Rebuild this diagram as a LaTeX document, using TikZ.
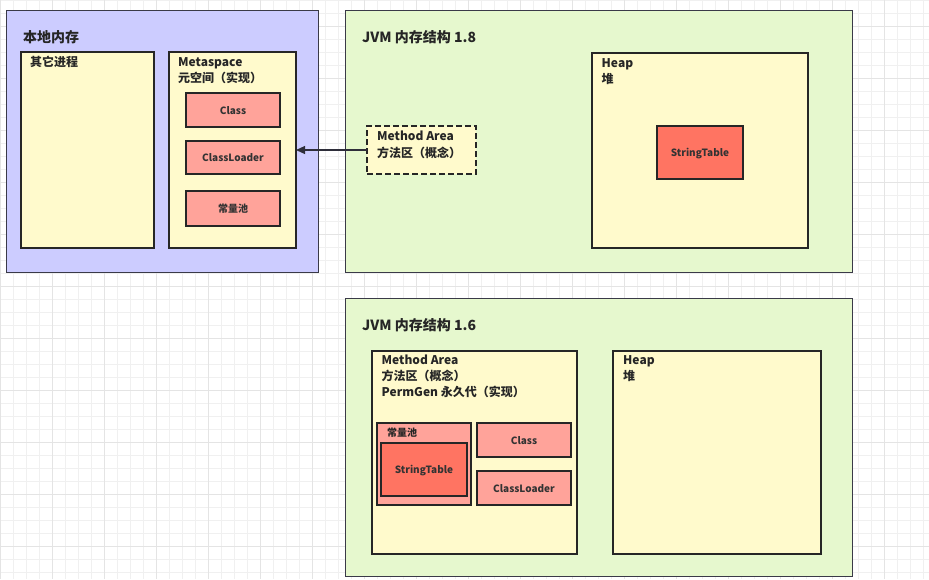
\documentclass[tikz,border=0pt]{standalone}
\usepackage{fontspec}
\setmainfont{Noto Sans CJK SC}
\usetikzlibrary{arrows.meta,positioning}
\definecolor{gridminor}{HTML}{F0F0F0}
\definecolor{gridmajor}{HTML}{E4E4E4}
\definecolor{localblue}{HTML}{CCCCFF}
\definecolor{jvmgreen}{HTML}{E6F8CE}
\definecolor{areayellow}{HTML}{FFFACC}
\definecolor{partsalmon}{HTML}{FFA39A}
\definecolor{tablered}{HTML}{FF7462}
\definecolor{edgegray}{HTML}{3A3A48}

\begin{document}
\begin{tikzpicture}[x=1pt,y=-1pt]
        \tikzset{region/.style={draw=edgegray, line width=0.9pt, inner sep=0pt, outer sep=0pt},
            area/.style={region, fill=areayellow, draw=black!85, line width=1.3pt},
            part/.style={area, fill=partsalmon, text=black!80, text height=0.9em, text depth=0.1em,
                font=\bfseries\fontsize{10}{12}\selectfont},
            hot/.style={part, fill=tablered},
            title/.style={anchor=west, inner sep=0pt, text height=0.88em, text depth=0.12em, yshift=-1.5pt,
                text=black!85, font=\bfseries\fontsize{14}{16}\selectfont},
            caption/.style={title, font=\bfseries\fontsize{12}{14}\selectfont},
            smallcaption/.style={title, font=\bfseries\fontsize{10}{12}\selectfont}}
        \useasboundingbox (0,0) rectangle (929,579);
        \fill[white] (0,0) rectangle (929,579);
        % canvas grid
        \foreach \gx in {0,13,...,929}
            \draw[gridminor, line width=0.8pt] (\gx,0) -- (\gx,579);
        \foreach \gy in {0,13,...,579}
            \draw[gridminor, line width=0.8pt] (0,\gy) -- (929,\gy);
        \foreach \gx in {0,52,...,929}
            \draw[gridmajor, line width=1pt] (\gx,0) -- (\gx,579);
        \foreach \gy in {26,78,...,579}
            \draw[gridmajor, line width=1pt] (0,\gy) -- (929,\gy);

        % native memory
        \node[region, fill=localblue, minimum width=312pt, minimum height=262pt] (local) at (162,141) {};
        \node[title] (local-title) at ([xshift=17pt,yshift=-27pt]local.north west) {本地内存};
        \node[area, minimum width=133pt, minimum height=196pt] (other) at (87.5,150) {};
        \node[caption] (other-title) at ([xshift=9pt,yshift=-9.5pt]other.north west) {其它进程};
        \node[area, minimum width=127pt, minimum height=196pt] (meta) at (232.5,150) {};
        \node[caption] (meta-title) at ([xshift=9pt,yshift=-9.5pt]meta.north west) {Metaspace};
        \node[caption] (meta-sub) at ([xshift=9pt,yshift=-25pt]meta.north west) {元空间（实现）};
        \node[part, minimum width=94pt, minimum height=34pt] (class8) at (233,110) {Class};
        \node[part, minimum width=94pt, minimum height=33pt] (loader8) at (233,157.5) {ClassLoader};
        \node[part, minimum width=94pt, minimum height=35pt] (pool8) at (233,208.5) {常量池};

        % JVM 1.8
        \node[region, fill=jvmgreen, minimum width=507pt, minimum height=262pt] (jvm8) at (598.5,141) {};
        \node[title] (jvm8-title) at ([xshift=17pt,yshift=-27pt]jvm8.north west) {JVM 内存结构 1.8};
        \node[area, dash pattern=on 6pt off 3pt, minimum width=109pt, minimum height=48pt] (method8) at (421.5,150) {};
        \node[caption] (method8-title) at ([xshift=10pt,yshift=-9pt]method8.north west) {Method Area};
        \node[caption] (method8-sub) at ([xshift=10pt,yshift=-26pt]method8.north west) {方法区（概念）};
        \node[area, minimum width=216pt, minimum height=195pt] (heap8) at (700,150.5) {};
        \node[caption] (heap8-title) at ([xshift=9.5pt,yshift=-9pt]heap8.north west) {Heap};
        \node[caption] (heap8-sub) at ([xshift=9.5pt,yshift=-25pt]heap8.north west) {堆};
        \node[hot, minimum width=86pt, minimum height=53pt] (table8) at (700,152.5) {StringTable};

        \draw[edgegray!80!black, line width=1.2pt, -{Triangle[length=9pt,width=8pt]}] (method8.west) -- (meta.east);

        % JVM 1.6
        \node[region, fill=jvmgreen, minimum width=507pt, minimum height=278pt] (jvm6) at (598.5,437) {};
        \node[title] (jvm6-title) at ([xshift=17pt,yshift=-27pt]jvm6.north west) {JVM 内存结构 1.6};
        \node[area, minimum width=205pt, minimum height=203pt] (method6) at (474.5,452.5) {};
        \node[caption] (method6-title) at ([xshift=9.5pt,yshift=-8pt]method6.north west) {Method Area};
        \node[caption] (method6-sub) at ([xshift=9.5pt,yshift=-24pt]method6.north west) {方法区（概念）};
        \node[caption] (method6-impl) at ([xshift=9.5pt,yshift=-40pt]method6.north west) {PermGen 永久代（实现）};
        \node[part, minimum width=94pt, minimum height=82pt] (pool6) at (424,464) {};
        \node[smallcaption] (pool6-title) at ([xshift=10pt,yshift=-8pt]pool6.north west) {常量池};
        \node[hot, minimum width=86pt, minimum height=53pt] (table6) at (424,469.5) {StringTable};
        \node[part, minimum width=94pt, minimum height=34pt] (class6) at (524,440) {Class};
        \node[part, minimum width=94pt, minimum height=34pt] (loader6) at (524,488) {ClassLoader};
        \node[area, minimum width=208pt, minimum height=203pt] (heap6) at (717,452.5) {};
        \node[caption] (heap6-title) at ([xshift=10pt,yshift=-8pt]heap6.north west) {Heap};
        \node[caption] (heap6-sub) at ([xshift=10pt,yshift=-24.5pt]heap6.north west) {堆};
\end{tikzpicture}
\end{document}
